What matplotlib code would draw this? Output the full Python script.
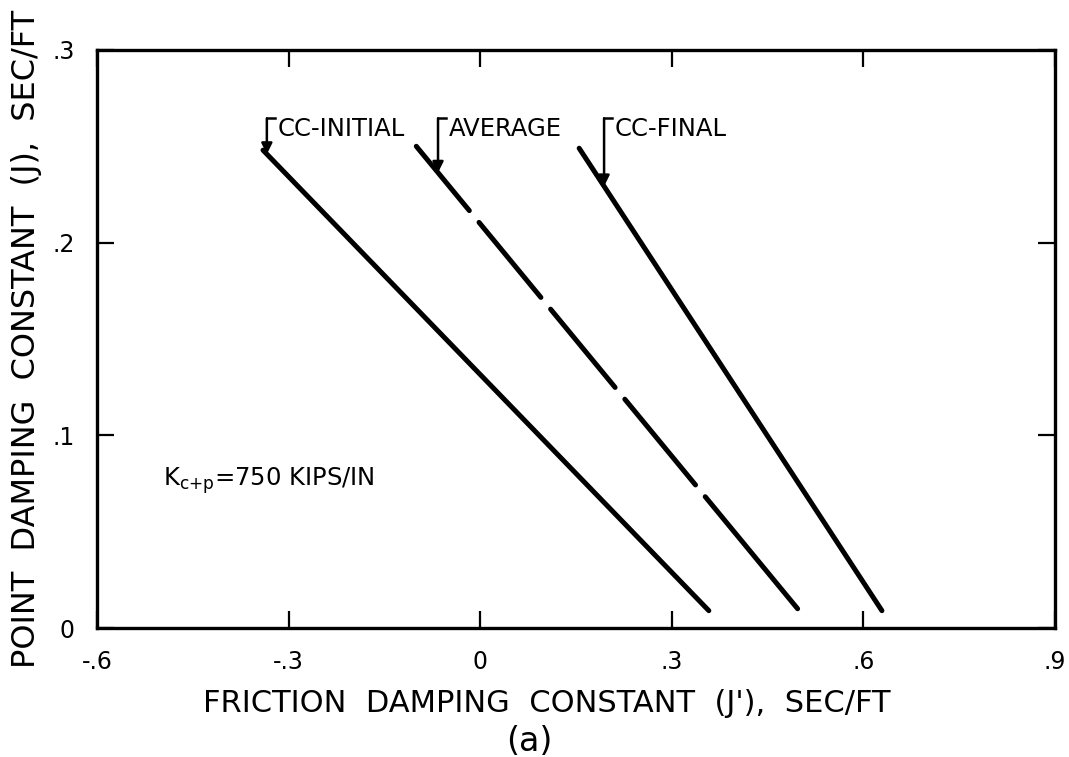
import numpy as np
import matplotlib
matplotlib.use("Agg")
import matplotlib.pyplot as plt

plt.rcParams['font.family'] = ['DejaVu Sans']
plt.rcParams['mathtext.fontset'] = 'dejavusans'
plt.rcParams['lines.scale_dashes'] = False

# end points of the three J - J' relations
jf_initial = [-0.340, 0.358]
j_initial = [0.248, 0.009]
jf_average = [-0.100, 0.497]
j_average = [0.250, 0.010]
jf_final = [0.155, 0.629]
j_final = [0.249, 0.009]

curve_names = ['CC-INITIAL', 'AVERAGE', 'CC-FINAL']
# friction value where each leader arrow hits its line
arrow_at = [-0.334, -0.066, 0.194]

xticks = [-0.6, -0.3, 0, 0.3, 0.6, 0.9]
xticklabels = ['-.6', '-.3', '0', '.3', '.6', '.9']
yticks = [0, 0.1, 0.2, 0.3]
yticklabels = ['0', '.1', '.2', '.3']

fig = plt.figure(figsize=(10.69, 7.57), dpi=100)
ax = fig.add_axes([0.0907, 0.1704, 0.8962, 0.7636])

lines = [(jf_initial, j_initial), (jf_average, j_average), (jf_final, j_final)]
ax.plot(jf_initial, j_initial, color='black', lw=3.6, solid_capstyle='round')
# hand-drawn look: dashes grow slightly toward the bottom end
ax.plot(jf_average, j_average, color='black', lw=3.6, dash_capstyle='round',
        linestyle=(0, (60, 11, 70, 11, 73, 11, 80, 11, 140, 11)))
ax.plot(jf_final, j_final, color='black', lw=3.6, solid_capstyle='round')

# labels with bracket-shaped leaders and arrows
top = 0.2645
for name, xa, (xs, ys) in zip(curve_names, arrow_at, lines):
    ytip = np.interp(xa, xs, ys)
    ax.plot([xa, xa + 0.012], [top, top], color='black', lw=1.8)
    ax.annotate('', xy=(xa, ytip), xytext=(xa, top),
                arrowprops=dict(arrowstyle='-|>', lw=1.8, color='black',
                                mutation_scale=16, shrinkA=0, shrinkB=0))
    ax.text(xa + 0.017, top + 0.0008, name, fontsize=17.5, va='top', ha='left')

ax.text(-0.497, 0.0765, r'K$_{\mathrm{c{+}p}}$=750 KIPS/IN', fontsize=17.5,
        va='center', ha='left')

ax.set_xlim(-0.6, 0.9)
ax.set_ylim(0, 0.3)
ax.set_xticks(xticks)
ax.set_xticklabels(xticklabels)
ax.set_yticks(yticks)
ax.set_yticklabels(yticklabels)
ax.tick_params(direction='in', length=12.5, width=1.6, labelsize=17,
               top=True, right=True, pad=16)
for s in ax.spines.values():
    s.set_linewidth(2.4)

ax.set_xlabel("FRICTION  DAMPING  CONSTANT  (J'),  SEC/FT", fontsize=22)
ax.set_ylabel("POINT  DAMPING  CONSTANT  (J),  SEC/FT", fontsize=23)
ax.xaxis.set_label_coords(0.47, -0.130)
ax.xaxis.label.set_va('center')
ax.yaxis.set_label_coords(-0.074, 0.5)
ax.yaxis.label.set_va('center')
fig.text(0.495, 0.02, '(a)', fontsize=24, ha='center', va='center')

fig.savefig('out.png', dpi=100)
